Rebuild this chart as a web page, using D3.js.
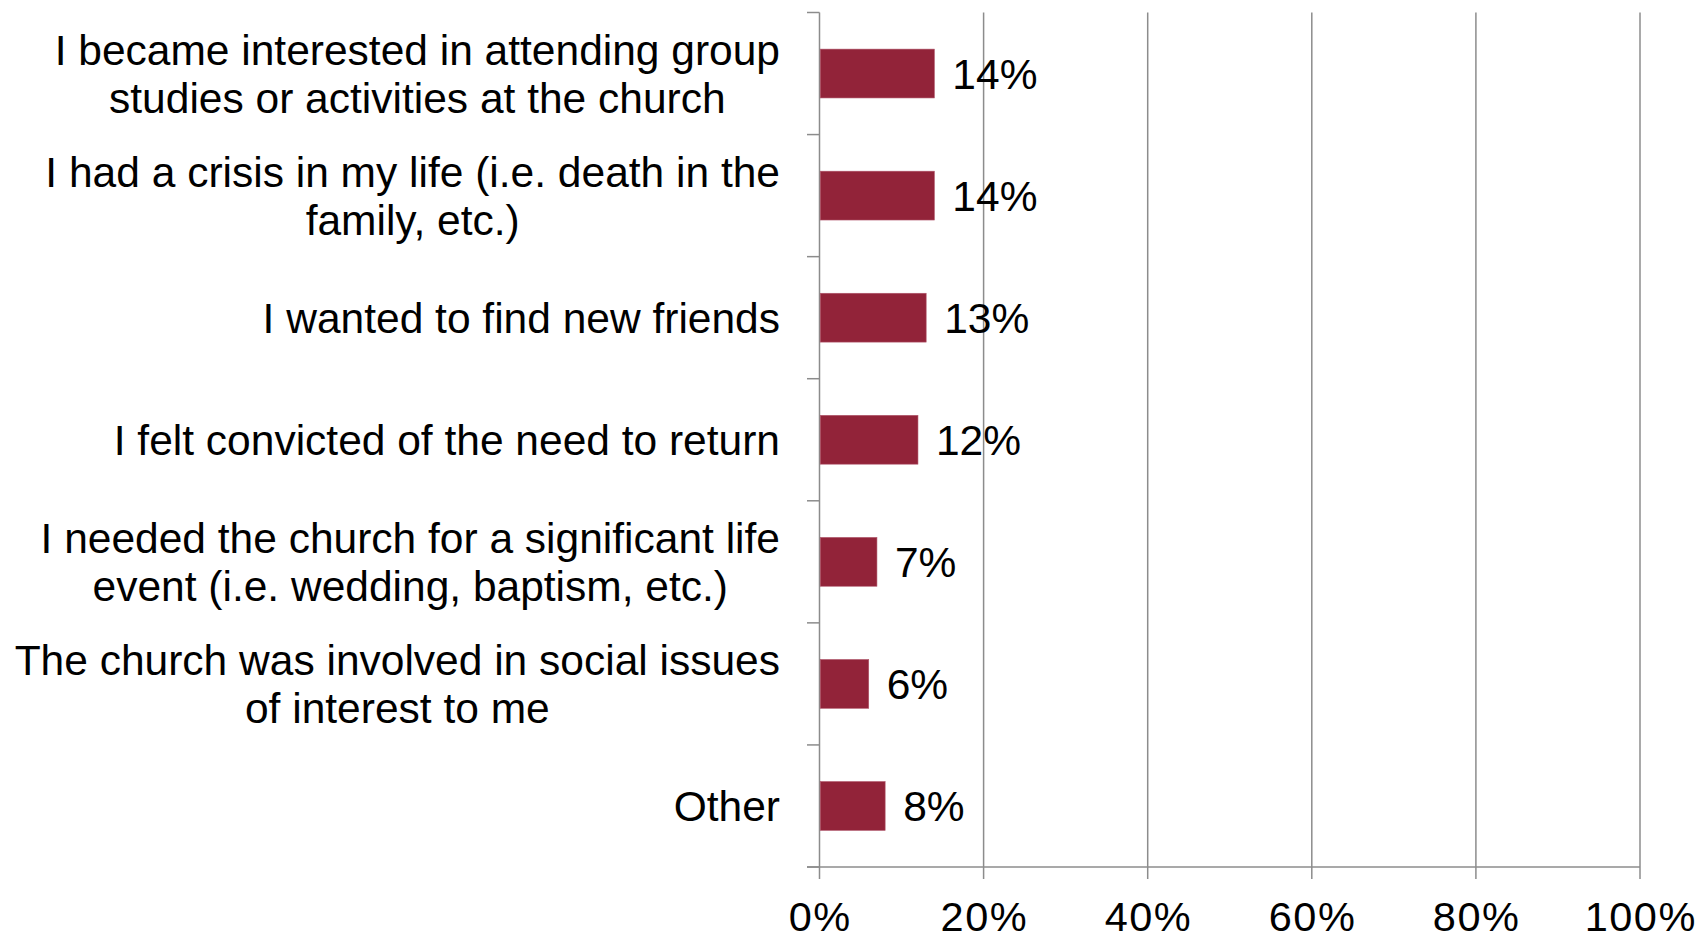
<!DOCTYPE html>
<html>
<head>
<meta charset="utf-8">
<script src="https://cdn.jsdelivr.net/npm/d3@7"></script>
<style>
  html, body { margin: 0; padding: 0; background: #fff; }
  svg { display: block; font-family: "Liberation Sans", Arial, sans-serif; }
</style>
</head>
<body>
<div class="chart"></div>
<script>
// categories, top to bottom (lines split as in the original)
const categories = [
	["I became interested in attending group", "studies or activities at the church"],
	["I had a crisis in my life (i.e. death in the", "family, etc.)"],
	["I wanted to find new friends"],
	["I felt convicted of the need to return"],
	["I needed the church for a significant life", "event (i.e. wedding, baptism, etc.)"],
	["The church was involved in social issues", "of interest to me"],
	["Other"]
];
const values = [0.14, 0.14, 0.13, 0.12, 0.07, 0.06, 0.08];
const xTicks = [0, 0.2, 0.4, 0.6, 0.8, 1.0];

const width = 1700, height = 939;
const margin = {l: 819.5, t: 12.5, r: 60, b: 72};
const axisBottom = 867;

const svg = d3.select('.chart').append('svg')
	.attr('width', width)
	.attr('height', height);

const x = d3.scaleLinear()
	.domain([0, 1])
	.range([margin.l, 1640]);

const y = d3.scaleBand()
	.domain(d3.range(categories.length))
	.range([margin.t, axisBottom])
	.paddingInner(0.6)
	.paddingOuter(0.3);

const grey = '#8c8c8c';

// vertical gridlines (run past the axis as tick marks)
svg.append('g')
	.selectAll('line')
	.data(xTicks.slice(1))
	.join('line')
	.attr('x1', d => x(d)).attr('x2', d => x(d))
	.attr('y1', margin.t).attr('y2', axisBottom + 12)
	.attr('stroke', grey)
	.attr('stroke-width', 1.5);

// y axis line + category tick marks
const bandStep = (axisBottom - margin.t) / categories.length;
svg.append('line')
	.attr('x1', x(0)).attr('x2', x(0))
	.attr('y1', margin.t).attr('y2', axisBottom + 12)
	.attr('stroke', grey).attr('stroke-width', 1.5);
svg.append('g')
	.selectAll('line')
	.data(d3.range(categories.length + 1))
	.join('line')
	.attr('x1', x(0) - 12.5).attr('x2', x(0))
	.attr('y1', i => margin.t + i * bandStep).attr('y2', i => margin.t + i * bandStep)
	.attr('stroke', grey).attr('stroke-width', 1.5);

// x axis line
svg.append('line')
	.attr('x1', x(0) - 12.5).attr('x2', x(1))
	.attr('y1', axisBottom).attr('y2', axisBottom)
	.attr('stroke', grey).attr('stroke-width', 1.5);

// bars
svg.append('g')
	.selectAll('rect')
	.data(values)
	.join('rect')
	.attr('x', x(0) + 0.75)
	.attr('y', (d, i) => y(i))
	.attr('width', d => x(d) - x(0) - 0.75)
	.attr('height', y.bandwidth())
	.attr('fill', '#922339')
	.attr('stroke', '#b0566a')
	.attr('stroke-width', 0.6);

// value labels
svg.append('g')
	.selectAll('text')
	.data(values)
	.join('text')
	.attr('x', d => x(d) + 18)
	.attr('y', (d, i) => y(i) + y.bandwidth() / 2)
	.attr('dy', '0.36em')
	.attr('font-size', 42.5)
	.attr('fill', '#000')
	.text(d => d3.format('.0%')(d));

// category labels: each block centred, widest line flush against the axis
const lineH = 48;
const labelRight = 780;
svg.append('g')
	.selectAll('text')
	.data(categories)
	.join('text')
	.attr('text-anchor', 'middle')
	.attr('font-size', 42.5)
	.attr('fill', '#000')
	.each(function(lines, i){
		const cy = y(i) + y.bandwidth() / 2;
		const start = cy - (lines.length - 1) * lineH / 2;
		const t = d3.select(this);
		t.selectAll('tspan')
			.data(lines)
			.join('tspan')
			.attr('y', (d, j) => start + j * lineH)
			.attr('dy', '0.36em')
			.text(d => d);
		let maxW = 0;
		t.selectAll('tspan').each(function(){
			maxW = Math.max(maxW, this.getComputedTextLength());
		});
		t.selectAll('tspan').attr('x', labelRight - maxW / 2);
	});

// x tick labels
svg.append('g')
	.selectAll('text')
	.data(xTicks)
	.join('text')
	.attr('x', d => x(d) + 0.75)
	.attr('y', 930.5)
	.attr('text-anchor', 'middle')
	.attr('font-size', 41.5)
	.attr('letter-spacing', 1.5)
	.attr('fill', '#000')
	.text(d => d3.format('.0%')(d));
</script>
</body>
</html>
